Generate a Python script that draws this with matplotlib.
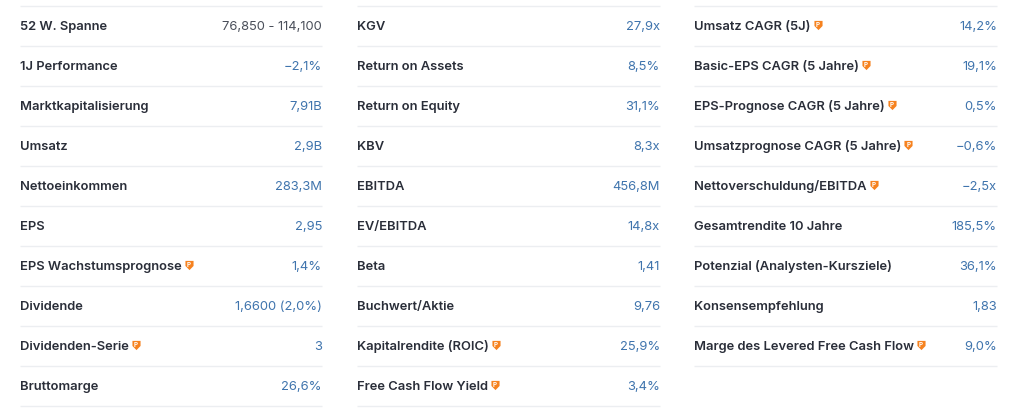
import matplotlib
matplotlib.use('Agg')
import matplotlib.pyplot as plt
from matplotlib.path import Path

plt.rcParams['font.family'] = ['Inter', 'DejaVu Sans']

# Spalte 1
labels_1 = ['52 W. Spanne', '1J Performance', 'Marktkapitalisierung', 'Umsatz', 'Nettoeinkommen',
            'EPS', 'EPS Wachstumsprognose', 'Dividende', 'Dividenden-Serie', 'Bruttomarge']
values_1 = ['76,850 - 114,100', '\u22122,1%', '7,91B', '2,9B', '283,3M',
            '2,95', '1,4%', '1,6600 (2,0%)', '3', '26,6%']
badges_1 = [6, 8]

# Spalte 2
labels_2 = ['KGV', 'Return on Assets', 'Return on Equity', 'KBV', 'EBITDA',
            'EV/EBITDA', 'Beta', 'Buchwert/Aktie', 'Kapitalrendite (ROIC)', 'Free Cash Flow Yield']
values_2 = ['27,9x', '8,5%', '31,1%', '8,3x', '456,8M',
            '14,8x', '1,41', '9,76', '25,9%', '3,4%']
badges_2 = [8, 9]

# Spalte 3
labels_3 = ['Umsatz CAGR (5J)', 'Basic-EPS CAGR (5 Jahre)', 'EPS-Prognose CAGR (5 Jahre)',
            'Umsatzprognose CAGR (5 Jahre)', 'Nettoverschuldung/EBITDA', 'Gesamtrendite 10 Jahre',
            'Potenzial (Analysten-Kursziele)', 'Konsensempfehlung', 'Marge des Levered Free Cash Flow']
values_3 = ['14,2%', '19,1%', '0,5%', '\u22120,6%', '\u22122,5x', '185,5%', '36,1%', '1,83', '9,0%']
badges_3 = [0, 1, 2, 3, 4, 8]

columns = [
    (20, 322, labels_1, values_1, badges_1),
    (357, 660, labels_2, values_2, badges_2),
    (694, 997, labels_3, values_3, badges_3),
]

LABEL_COLOR = '#2a2e39'
VALUE_COLOR = '#3f74ad'
FIRST_VALUE_COLOR = '#4a4f5a'
LINE_COLOR = '#eceef1'
BADGE_COLOR = '#f6821f'
ROW_H = 40
TOP = 6

# Schild-Form fuer das Pro-Symbol
shield = Path([(-0.44, 0.5), (0.44, 0.5), (0.44, -0.05), (0.0, -0.5), (-0.44, -0.05), (-0.44, 0.5)],
              closed=True)

fig = plt.figure(figsize=(10.24, 4.16), dpi=100)
ax = fig.add_axes([0, 0, 1, 1])
ax.set_xlim(0, 1024)
ax.set_ylim(416, 0)
ax.axis('off')

renderer = fig.canvas.get_renderer()

for x0, x1, labels, values, badges in columns:
    ax.hlines(TOP, x0, x1, color=LINE_COLOR, lw=1)
    for i, (lab, val) in enumerate(zip(labels, values)):
        y = TOP + ROW_H * i + ROW_H / 2
        t = ax.text(x0, y + 4.2, lab, fontsize=9.33, fontweight='semibold', color=LABEL_COLOR,
                    ha='left', va='baseline')
        vc = FIRST_VALUE_COLOR if val.startswith('76,850') else VALUE_COLOR
        ax.text(x1, y + 4.2, val, fontsize=9.33, color=vc, ha='right', va='baseline')
        ax.hlines(TOP + ROW_H * (i + 1), x0, x1, color=LINE_COLOR, lw=1)
        if i in badges:
            # kleines Schild direkt hinter dem Label
            bb = t.get_window_extent(renderer)
            bx = bb.x1 + 7
            ax.scatter([bx], [y - 1], s=44, marker=shield, color=BADGE_COLOR, lw=0, zorder=3)
            ax.text(bx, y - 1.3, 'P', fontsize=4.6, fontweight='bold', color='white',
                    ha='center', va='center', zorder=4)

fig.savefig('out.png', dpi=100)
